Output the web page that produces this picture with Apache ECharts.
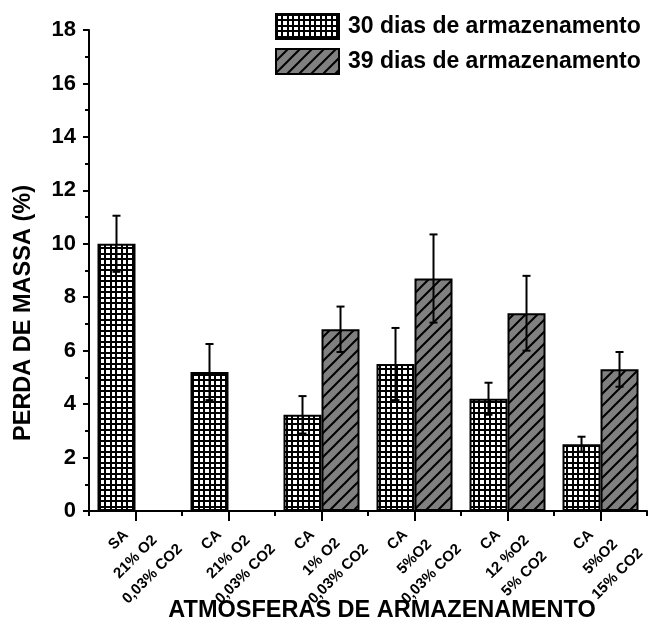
<!DOCTYPE html>
<html>
<head>
<meta charset="utf-8">
<script src="https://cdn.jsdelivr.net/npm/echarts@6/dist/echarts.min.js"></script>
<style>
  html, body { margin: 0; padding: 0; background: #fff; }
  #chart { width: 651px; height: 622px; }
</style>
</head>
<body>
<div id="chart"></div>
<script>
// Storage atmospheres (category labels, three lines each)
const categories = [
  'SA\n21% O2\n0,03% CO2',
  'CA\n21% O2\n0,03% CO2',
  'CA\n1% O2\n0,03% CO2',
  'CA\n5%O2\n0,03% CO2',
  'CA\n12 %O2\n5% CO2',
  'CA\n5%O2\n15% CO2'
];
const seriesNames = ['30 dias de armazenamento', '39 dias de armazenamento'];
// Mass loss (%) and its error half-width
const loss30 = [10.0, 5.2, 3.6, 5.5, 4.2, 2.5];
const err30  = [1.05, 1.05, 0.7, 1.35, 0.6, 0.28];
const loss39 = [null, null, 6.8, 8.7, 7.4, 5.3];
const err39  = [null, null, 0.85, 1.65, 1.4, 0.65];
const yTicks = { min: 0, max: 18, interval: 2 };

const FONT = '"Liberation Sans", Arial, sans-serif';
const BAR_W = 38;

// Fill patterns: black grid on white, black diagonals on grey
function gridPattern() {
  const c = document.createElement('canvas');
  c.width = 11; c.height = 11;
  const g = c.getContext('2d');
  g.fillStyle = '#fff'; g.fillRect(0, 0, 11, 11);
  g.fillStyle = '#000';
  g.fillRect(0, 0, 2, 11); g.fillRect(5, 0, 2, 11);
  g.fillRect(0, 0, 11, 2); g.fillRect(0, 5, 11, 2);
  return c;
}
function diagPattern() {
  const s = 12;
  const c = document.createElement('canvas');
  c.width = s; c.height = s;
  const g = c.getContext('2d');
  g.fillStyle = '#808080'; g.fillRect(0, 0, s, s);
  g.strokeStyle = '#000'; g.lineWidth = 2;
  g.beginPath();
  g.moveTo(-2, s + 2); g.lineTo(s + 2, -2);
  g.moveTo(-2, 2); g.lineTo(2, -2);
  g.moveTo(s - 2, s + 2); g.lineTo(s + 2, s - 2);
  g.stroke();
  return c;
}
const fill30 = { image: gridPattern(), repeat: 'repeat' };
const fill39 = { image: diagPattern(), repeat: 'repeat' };

const toBar = arr => arr.map(v => (v == null ? '-' : v));
function errData(vals, errs) {
  const out = [];
  vals.forEach((v, i) => { if (v != null) out.push([i, v, errs[i]]); });
  return out;
}
function errRenderer(side) {
  return function (params, api) {
    const i = api.value(0), v = api.value(1), e = api.value(2);
    const hi = api.coord([i, v + e]);
    const lo = api.coord([i, v - e]);
    const x = hi[0] + side * BAR_W / 2;
    const cap = 4;
    const st = { stroke: '#000', lineWidth: 2 };
    return {
      type: 'group',
      children: [
        { type: 'line', shape: { x1: x, y1: hi[1], x2: x, y2: lo[1] }, style: st },
        { type: 'line', shape: { x1: x - cap, y1: hi[1], x2: x + cap, y2: hi[1] }, style: st },
        { type: 'line', shape: { x1: x - cap, y1: lo[1], x2: x + cap, y2: lo[1] }, style: st }
      ]
    };
  };
}

const chart = echarts.init(document.getElementById('chart'), null, { renderer: 'canvas' });
chart.setOption({
  animation: false,
  backgroundColor: '#fff',
  grid: { left: 89, right: 3, top: 30, bottom: 111, containLabel: false },
  legend: {
    data: seriesNames.map(n => ({ name: n, icon: 'rect' })),
    orient: 'vertical',
    left: 275, top: 13, padding: 0,
    itemWidth: 63, itemHeight: 25, itemGap: 8,
    align: 'left',
    textStyle: { fontFamily: FONT, fontWeight: 'bold', fontSize: 23, color: '#000', padding: [0, 0, 0, 4] }
  },
  xAxis: [
    {
      type: 'category',
      data: categories,
      axisLine: { lineStyle: { color: '#000', width: 2 } },
      axisTick: { show: true, length: 5, lineStyle: { color: '#000', width: 2 } },
      axisLabel: {
        interval: 0, rotate: 45, align: 'center', verticalAlign: 'middle', margin: 46,
        fontFamily: FONT, fontWeight: 'bold', fontSize: 15, lineHeight: 24, color: '#000'
      },
      splitLine: { show: false }
    },
    {
      type: 'category',
      data: categories,
      position: 'bottom',
      axisLine: { show: false },
      axisTick: { show: true, alignWithLabel: true, length: 10, lineStyle: { color: '#000', width: 2 } },
      axisLabel: { show: false },
      splitLine: { show: false }
    }
  ],
  yAxis: {
    type: 'value',
    min: yTicks.min, max: yTicks.max, interval: yTicks.interval,
    axisLine: { show: true, lineStyle: { color: '#000', width: 2 } },
    axisTick: { show: true, length: 6, lineStyle: { color: '#000', width: 2 } },
    minorTick: { show: true, splitNumber: 2, length: 4, lineStyle: { color: '#000', width: 2 } },
    axisLabel: { fontFamily: FONT, fontWeight: 'bold', fontSize: 22, color: '#000', margin: 13 },
    splitLine: { show: false }
  },
  series: [
    {
      name: seriesNames[0], type: 'bar', data: toBar(loss30),
      barWidth: BAR_W, barGap: '0%',
      itemStyle: { color: fill30, borderColor: '#000', borderWidth: 2 }
    },
    {
      name: seriesNames[1], type: 'bar', data: toBar(loss39),
      barWidth: BAR_W, barGap: '0%',
      itemStyle: { color: fill39, borderColor: '#000', borderWidth: 2 }
    },
    {
      type: 'custom', name: 'err30', data: errData(loss30, err30),
      encode: { x: 0, y: 1 }, renderItem: errRenderer(-1), z: 5, silent: true
    },
    {
      type: 'custom', name: 'err39', data: errData(loss39, err39),
      encode: { x: 0, y: 1 }, renderItem: errRenderer(1), z: 5, silent: true
    }
  ],
  graphic: [
    {
      type: 'text', x: 24, y: 313, rotation: Math.PI / 2,
      style: {
        text: 'PERDA DE MASSA (%)', fill: '#000',
        font: 'bold 23.5px ' + FONT, textAlign: 'center', textVerticalAlign: 'middle'
      }
    },
    {
      type: 'text', x: 382, y: 611,
      style: {
        text: 'ATMOSFERAS DE ARMAZENAMENTO', fill: '#000',
        font: 'bold 23.5px ' + FONT, textAlign: 'center', textVerticalAlign: 'middle'
      }
    }
  ]
});
</script>
</body>
</html>
